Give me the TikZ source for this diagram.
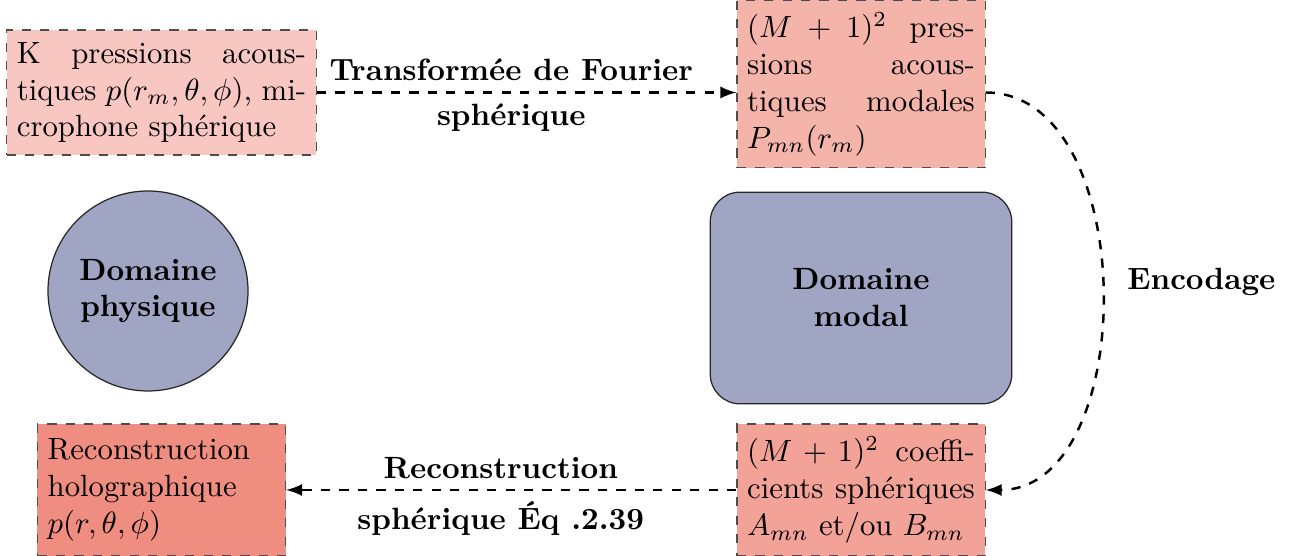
\documentclass[tikz,border=0pt]{standalone}
\usepackage{amsfonts, amsmath, amssymb}
\usepackage{tikz}
\usetikzlibrary{arrows, positioning}
\definecolor{roseA}{RGB}{248,199,193}
\definecolor{roseB}{RGB}{244,180,170}
\definecolor{roseC}{RGB}{242,162,151}
\definecolor{roseD}{RGB}{239,141,128}
\definecolor{domblue}{RGB}{161,165,196}
\tikzstyle{info}=[rectangle, draw=black!70, dashed, align=justify]
\tikzstyle{domaine}=[draw=black!85, fill=domblue, font=\bfseries, align=center]
\tikzstyle{flux}=[-latex, thick, dashed]
\tikzstyle{etiq}=[font=\bfseries]

\begin{document}
\begin{tikzpicture}[x=0.325pt, y=-0.325pt]
				\useasboundingbox (0,0) rectangle (1293,556);
				\node[info, fill=roseA, text width=94pt, minimum height=40.6pt] (kpress) at (161.5,92.5)
								{K pressions acous-\linebreak tiques $p(r_m,\theta,\phi)$, mi-\linebreak crophone sphérique};
				\node[info, fill=roseB, text width=74pt, minimum height=54.5pt] (pmodal) at (861,84)
								{$(M+1)^2$ pres-\linebreak sions acous-\linebreak tiques modales\linebreak $P_{mn}(r_m)$};
				\node[info, fill=roseC, text width=74pt, minimum height=42.9pt] (coeff) at (861,490)
								{$(M+1)^2$ coeffi-\linebreak cients sphériques\linebreak $A_{mn}$ et/ou $B_{mn}$};
				\node[info, fill=roseD, text width=74pt, minimum height=42.9pt, align=left] (recon) at (161.5,490)
								{Reconstruction\\ holographique\\ $p(r,\theta,\phi)$};

				\node[domaine, circle, minimum size=65pt] (physique) at (148,291) {Domaine\\ physique};
				\node[domaine, rectangle, rounded corners=9.7pt, minimum width=98pt, minimum height=68.8pt] (modal) at (861,298) {Domaine\\ modal};

				\draw[flux] (kpress.east) -- (kpress.east -| pmodal.west)
								node[etiq, midway, above, xshift=-5pt] {Transformée de Fourier}
								node[etiq, midway, below, xshift=-5pt] {sphérique};
				\draw[flux] (pmodal.east |- kpress.east) to[out=0, in=0]
								node[etiq, right, xshift=4.5pt, yshift=3pt] {Encodage} (coeff.east);
				\draw[flux] (coeff.west) -- (recon.east)
								node[etiq, midway, above, xshift=-3.4pt] {Reconstruction}
								node[etiq, midway, below, xshift=-3.4pt] {sphérique Éq .2.39};
\end{tikzpicture}
\end{document}
